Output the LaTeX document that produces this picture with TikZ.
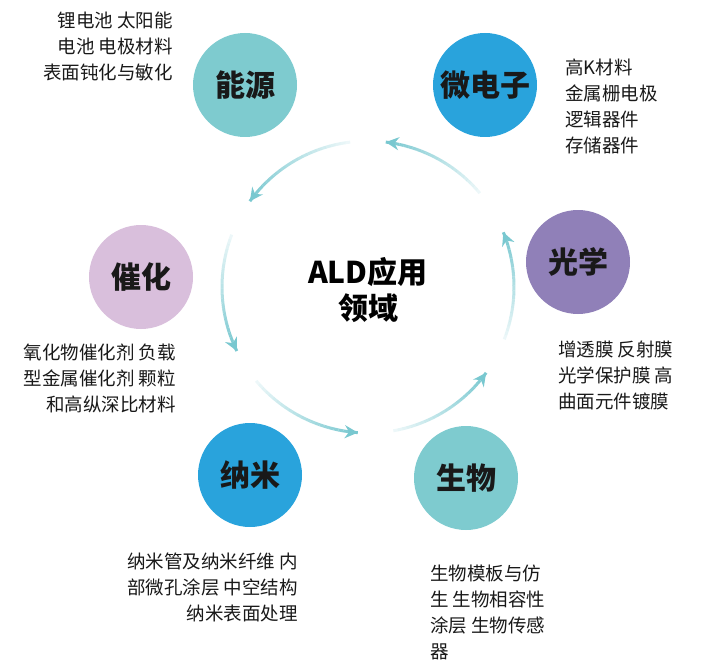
\documentclass[tikz,border=0pt]{standalone}
\usepackage{fontspec}
\setmainfont{Noto Sans CJK SC}
\newfontfamily\medf{Noto Sans CJK SC Medium}
\usetikzlibrary{arrows.meta}
\definecolor{teal}{HTML}{7ECBCF}
\definecolor{blu}{HTML}{29A3DC}
\definecolor{pur}{HTML}{9080B8}
\definecolor{pink}{HTML}{D9BFDC}
\definecolor{arc}{HTML}{79C8D0}
\tikzset{
 bub/.style={circle,minimum size=104pt,inner sep=0pt,font=\fontsize{30}{32}\selectfont\bfseries,text=black!90},
 lab/.style={font=\fontsize{18.5}{26}\selectfont,inner sep=0pt,text=black!90},
}
\newcommand{\fadearc}[2]{%
 \foreach \i in {0,...,23}{%
  \pgfmathsetmacro{\aa}{#1+(#2-#1)*\i/24}%
  \pgfmathsetmacro{\bb}{#1+(#2-#1)*(\i+1)/24}%
  \pgfmathsetmacro{\op}{0.1+0.9*(\i+1)/24}%
  \draw[arc,line width=3pt,draw opacity=\op] ([shift={(\aa:146)}]ctr) arc[start angle=\aa,end angle=\bb,radius=146];
 }%
 \pgfmathsetmacro{\cc}{#2-2}%
 \draw[arc,line width=3pt,-{Stealth[length=13pt,width=13pt]}] ([shift={(\cc:146)}]ctr) arc[start angle=\cc,end angle=#2,radius=146];
}
\begin{document}
\begin{tikzpicture}[x=1pt,y=-1pt]
\useasboundingbox (0,0) rectangle (701,671);
\coordinate (ctr) at (368,287);
\begin{scope}[y=1pt]
\fadearc{40}{83}
\fadearc{97}{144}
\fadearc{159}{206}
\fadearc{220}{266}
\fadearc{280}{324}
\fadearc{339}{382}
\end{scope}
\node[font=\fontsize{30}{36}\selectfont\bfseries,align=center] (c) at (368,290) {ALD应用\\领域};
\node[bub,fill=teal] (ny) at (245,85) {能源};
\node[bub,fill=blu] (wd) at (485,85) {微电子};
\node[bub,fill=pur] (gx) at (578,262) {光学};
\node[bub,fill=pink] (ch) at (141,277) {催化};
\node[bub,fill=blu] (nm) at (250,475) {纳米};
\node[bub,fill=teal] (sw) at (466,478) {生物};
\node[lab,align=right,anchor=north east] (t1) at (173,12) {锂电池 太阳能\\电池 电极材料\\表面钝化与敏化};
\node[lab,align=left,anchor=north west] (t2) at (565,59) {高K材料\\金属栅电极\\逻辑器件\\存储器件};
\node[lab,align=left,anchor=north west] (t3) at (558,341) {增透膜 反射膜\\光学保护膜 高\\曲面元件镀膜};
\node[lab,align=right,anchor=north east] (t4) at (176,344) {氧化物催化剂 负载\\型金属催化剂 颗粒\\和高纵深比材料};
\node[lab,align=right,anchor=north east] (t5) at (298,553) {纳米管及纳米纤维 内\\部微孔涂层 中空结构\\纳米表面处理};
\node[lab,align=left,anchor=north west] (t6) at (430,565) {生物模板与仿\\生 生物相容性\\涂层 生物传感\\器};
\end{tikzpicture}
\end{document}
